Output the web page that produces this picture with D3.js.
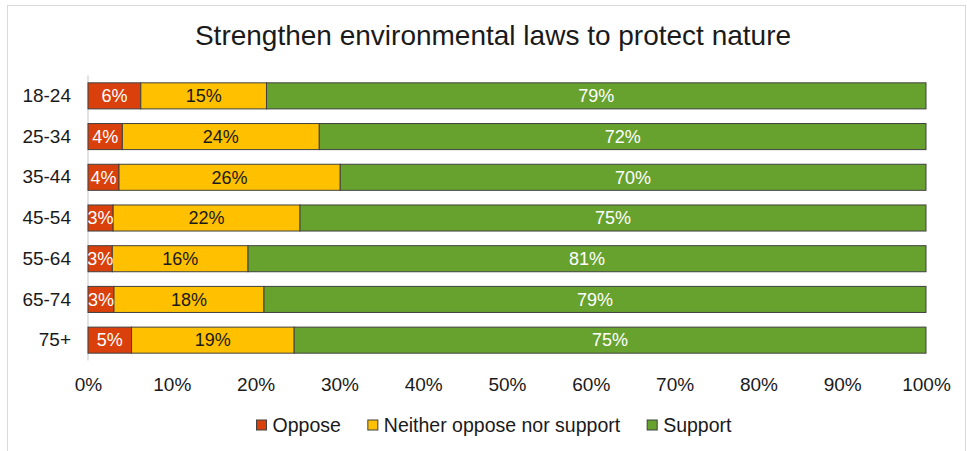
<!DOCTYPE html>
<html>
<head>
<meta charset="utf-8">
<script src="https://cdn.jsdelivr.net/npm/d3@7"></script>
<style>
  html, body { margin: 0; padding: 0; background: #fff; }
  svg { display: block; font-family: "Liberation Sans", Arial, sans-serif; }
</style>
</head>
<body>
<svg id="chart" width="967" height="451"></svg>
<script>
const title = "Strengthen environmental laws to protect nature";
const categories = ["18-24", "25-34", "35-44", "45-54", "55-64", "65-74", "75+"];
const seriesNames = ["Oppose", "Neither oppose nor support", "Support"];
const oppose  = [6.3, 4.1, 3.7, 3.0, 2.9, 3.1, 5.2];
const neither = [15.0, 23.5, 26.4, 22.3, 16.2, 17.9, 19.4];
const support = [78.7, 72.4, 69.9, 74.7, 80.9, 79.0, 75.4];
const opposeLabels  = ["6%", "4%", "4%", "3%", "3%", "3%", "5%"];
const neitherLabels = ["15%", "24%", "26%", "22%", "16%", "18%", "19%"];
const supportLabels = ["79%", "72%", "70%", "75%", "81%", "79%", "75%"];
const xTicks = [0, 10, 20, 30, 40, 50, 60, 70, 80, 90, 100];

const colors = ["#D9400B", "#FFC000", "#67A22F"];
const labelColors = ["#ffffff", "#1a1a1a", "#ffffff"];

const svg = d3.select("#chart");

// outer frame
svg.append("rect")
  .attr("x", 7.5).attr("y", 5.5)
  .attr("width", 958).attr("height", 470)
  .attr("fill", "none").attr("stroke", "#d9d9d9").attr("stroke-width", 1);

// title
svg.append("text")
  .attr("x", 493).attr("y", 45)
  .attr("text-anchor", "middle")
  .attr("font-size", "28px")
  .attr("fill", "#1a1a1a")
  .text(title);

const x = d3.scaleLinear().domain([0, 100]).range([88, 926]);
const y = d3.scaleBand().domain(categories).range([75.5, 360.5]).paddingInner(0.36).paddingOuter(0.18);

const rows = categories.map((c, i) => ({ cat: c, Oppose: oppose[i], Neither: neither[i], Support: support[i] }));
const keys = ["Oppose", "Neither", "Support"];
const labelArrays = [opposeLabels, neitherLabels, supportLabels];
const stacked = d3.stack().keys(keys)(rows);

// y axis line
svg.append("line")
  .attr("x1", x(0)).attr("x2", x(0))
  .attr("y1", 75.5).attr("y2", 360.5)
  .attr("stroke", "#d9d9d9").attr("stroke-width", 1.5);

// bars
stacked.forEach((layer, k) => {
  const g = svg.append("g");
  g.selectAll("rect").data(layer).join("rect")
    .attr("x", d => x(d[0]))
    .attr("y", d => y(d.data.cat))
    .attr("width", d => x(d[1]) - x(d[0]))
    .attr("height", y.bandwidth())
    .attr("fill", colors[k])
    .attr("stroke", "#404040")
    .attr("stroke-width", 1);
});

// labels
stacked.forEach((layer, k) => {
  const g = svg.append("g");
  g.selectAll("text").data(layer).join("text")
    .attr("x", d => (x(d[0]) + x(d[1])) / 2)
    .attr("y", d => y(d.data.cat) + y.bandwidth() / 2)
    .attr("dy", "0.35em")
    .attr("text-anchor", "middle")
    .attr("font-size", "18px")
    .attr("fill", labelColors[k])
    .text((d, i) => labelArrays[k][i]);
});

// category axis labels
const yAxis = d3.axisLeft(y).tickSize(0).tickPadding(17);
const yg = svg.append("g").attr("transform", `translate(${x(0)},0)`).call(yAxis);
yg.select(".domain").remove();
yg.selectAll("text").attr("font-size", "19px").attr("fill", "#1a1a1a")
  .attr("font-family", "Liberation Sans, Arial, sans-serif");

// x axis labels
const xAxis = d3.axisBottom(x).tickValues(xTicks).tickFormat(d => d + "%").tickSize(0).tickPadding(0);
const xg = svg.append("g").attr("transform", `translate(0,377)`).call(xAxis);
xg.select(".domain").remove();
xg.selectAll("text").attr("font-size", "19px").attr("fill", "#1a1a1a")
  .attr("font-family", "Liberation Sans, Arial, sans-serif");

// legend
const legend = svg.append("g");
const items = legend.selectAll("g").data(seriesNames).join("g");
items.append("rect")
  .attr("width", 10).attr("height", 10)
  .attr("y", -5)
  .attr("fill", (d, i) => colors[i])
  .attr("stroke", "#404040").attr("stroke-width", 1);
items.append("text")
  .attr("x", 16).attr("dy", "0.35em")
  .attr("font-size", "19.5px").attr("fill", "#1a1a1a")
  .text(d => d);
let cx = 0;
items.each(function() {
  const w = d3.select(this).select("text").node().getComputedTextLength();
  d3.select(this).attr("transform", `translate(${cx},0)`);
  cx += 16 + w + 27;
});
const total = cx - 27;
legend.attr("transform", `translate(${494 - total / 2},425)`);
</script>
</body>
</html>
